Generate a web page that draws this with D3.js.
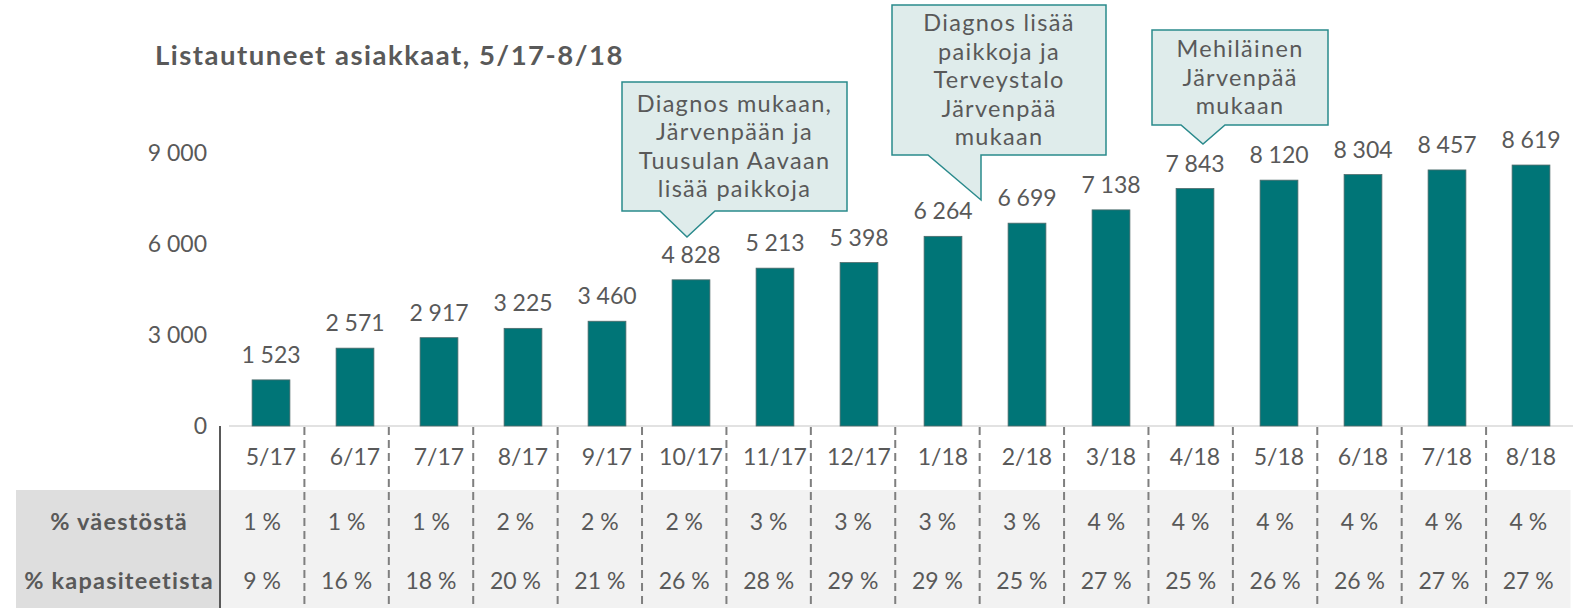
<!DOCTYPE html>
<html><head><meta charset="utf-8">
<script src="https://cdn.jsdelivr.net/npm/d3@7/dist/d3.min.js"></script>
<style>body{margin:0;background:#fff}svg{display:block}</style>
</head><body>
<svg id="c" width="1583" height="608"></svg>
<script>
const categories = ["5/17","6/17","7/17","8/17","9/17","10/17","11/17","12/17","1/18","2/18","3/18","4/18","5/18","6/18","7/18","8/18"];
const customers = [1523,2571,2917,3225,3460,4828,5213,5398,6264,6699,7138,7843,8120,8304,8457,8619];
const pctPopulation = [1,1,1,2,2,2,3,3,3,3,4,4,4,4,4,4];
const pctCapacity = [9,16,18,20,21,26,28,29,29,25,27,25,26,26,27,27];
const yTicks = [0,3000,6000,9000];
const rowLabels = ["% väestöstä","% kapasiteetista"];
const title = "Listautuneet asiakkaat, 5/17-8/18";
const callouts = [
  {lines:["Diagnos mukaan,","Järvenpään ja","Tuusulan Aavaan","lisää paikkoja"], box:[622,82,847,211], base:[660,715], tip:[687,237]},
  {lines:["Diagnos lisää","paikkoja ja","Terveystalo","Järvenpää","mukaan"], box:[892,5,1106,155], base:[928,981], tip:[981,200]},
  {lines:["Mehiläinen","Järvenpää","mukaan"], box:[1152,30,1328,125], base:[1181,1225], tip:[1203,144]}
];

const FONT = "Lato, 'Open Sans', sans-serif";
const TXT = "#595959";
const svg = d3.select("#c");
const fmt = v => d3.format(",")(v).replace(/,/g," ");

const x = d3.scaleBand().domain(categories).range([229,1573]).paddingInner(0.55).paddingOuter(0.275);
const xt = d3.scaleBand().domain(categories).range([220,1570.5]);
const y = d3.scaleLinear().domain([0,9000]).range([426,153.5]);

// title
svg.append("text").attr("x",155).attr("y",65).attr("font-family",FONT).attr("font-weight","bold")
  .attr("font-size",27.5).attr("letter-spacing",1.5).attr("fill",TXT).text(title);

// table background
svg.append("rect").attr("x",16).attr("y",490).attr("width",204).attr("height",118).attr("fill","#dedede");
svg.append("rect").attr("x",220).attr("y",490).attr("width",xt.range()[1]-220).attr("height",118).attr("fill","#f2f2f2");

// baseline
svg.append("line").attr("x1",229).attr("x2",1573).attr("y1",y(0)).attr("y2",y(0)).attr("stroke","#d9d9d9").attr("stroke-width",1.5);

// vertical separator lines
svg.append("line").attr("x1",220).attr("x2",220).attr("y1",426).attr("y2",608).attr("stroke","#595959").attr("stroke-width",2);
svg.selectAll("line.sep").data(categories.slice(1)).join("line").attr("class","sep")
  .attr("x1",d=>xt(d)).attr("x2",d=>xt(d)).attr("y1",427).attr("y2",608)
  .attr("stroke","#7f7f7f").attr("stroke-width",2).attr("stroke-dasharray","8,5");

// y axis
const ya = d3.axisLeft(y).tickValues(yTicks).tickSize(0).tickPadding(0).tickFormat(fmt);
const g = svg.append("g").attr("transform","translate(207,0)").call(ya);
g.select(".domain").remove();
g.selectAll("text").attr("font-family",FONT).attr("font-size",23).attr("fill",TXT);

// bars
svg.selectAll("rect.bar").data(categories).join("rect").attr("class","bar")
  .attr("x",d=>x(d)).attr("width",x.bandwidth())
  .attr("y",(d,i)=>y(customers[i])).attr("height",(d,i)=>y(0)-y(customers[i]))
  .attr("fill","#007577").attr("stroke","#4f6a6a").attr("stroke-width",0.8);

// value labels
svg.selectAll("text.val").data(categories).join("text").attr("class","val")
  .attr("x",d=>x(d)+x.bandwidth()/2).attr("y",(d,i)=>y(customers[i])-17)
  .attr("text-anchor","middle").attr("font-family",FONT).attr("font-size",23).attr("fill",TXT)
  .text((d,i)=>fmt(customers[i]));

// category labels
svg.selectAll("text.cat").data(categories).join("text").attr("class","cat")
  .attr("x",d=>x(d)+x.bandwidth()/2).attr("y",457).attr("dy","0.35em")
  .attr("text-anchor","middle").attr("font-family",FONT).attr("font-size",23).attr("fill",TXT).text(d=>d);

// table rows
const rows = [pctPopulation, pctCapacity];
const rowY = [522, 581];
rows.forEach((arr,r)=>{
  svg.append("text").attr("x",119).attr("y",rowY[r]).attr("dy","0.35em").attr("text-anchor","middle")
    .attr("font-family",FONT).attr("font-weight","bold").attr("font-size",23.5).attr("letter-spacing",1.2)
    .attr("fill",TXT).text(rowLabels[r]);
  svg.selectAll("text.r"+r).data(categories).join("text").attr("class","r"+r)
    .attr("x",d=>xt(d)+xt.bandwidth()/2).attr("y",rowY[r]).attr("dy","0.35em")
    .attr("text-anchor","middle").attr("font-family",FONT).attr("font-size",23).attr("fill",TXT)
    .text((d,i)=>arr[i]+" %");
});

// callouts
callouts.forEach(c=>{
  const [x0,y0,x1,y1]=c.box;
  const p = `M${x0},${y0}H${x1}V${y1}H${c.base[1]}L${c.tip[0]},${c.tip[1]}L${c.base[0]},${y1}H${x0}Z`;
  svg.append("path").attr("d",p).attr("fill","#dfeceb").attr("stroke","#2a8a8c").attr("stroke-width",1.5);
  const cx=(x0+x1)/2, n=c.lines.length, lh=28.5;
  const h = (y1-y0);
  const start = y0 + h/2 - (n-1)*lh/2;
  c.lines.forEach((l,i)=>{
    svg.append("text").attr("x",cx).attr("y",start+i*lh).attr("dy","0.35em").attr("text-anchor","middle")
      .attr("font-family",FONT).attr("font-size",23.5).attr("letter-spacing",1.3).attr("fill",TXT).text(l);
  });
});
</script>
</body></html>
